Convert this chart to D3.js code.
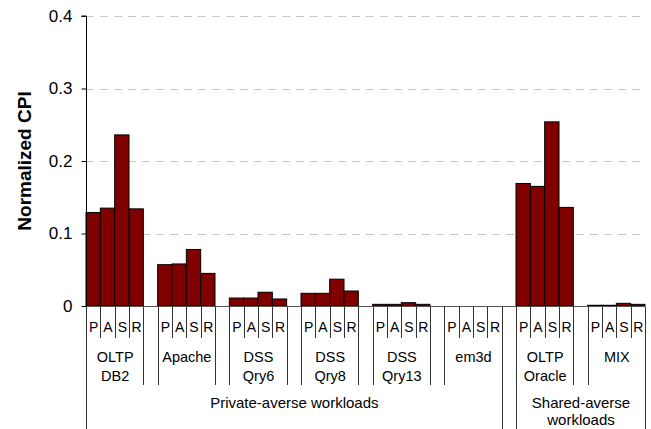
<!DOCTYPE html>
<html>
<head>
<meta charset="utf-8">
<script src="https://cdn.jsdelivr.net/npm/d3@7/dist/d3.min.js"></script>
<style>
  html, body { margin: 0; padding: 0; background: #fff; }
  svg { display: block; font-family: "Liberation Sans", Arial, sans-serif; }
</style>
</head>
<body>
<svg id="chart" width="651" height="429"></svg>
<script>
// Workloads (second axis level), with their line breaks
const workloads = [["OLTP", "DB2"], ["Apache"], ["DSS", "Qry6"], ["DSS", "Qry8"],
                   ["DSS", "Qry13"], ["em3d"], ["OLTP", "Oracle"], ["MIX"]];
// Schemes (first axis level)
const schemes = ["P", "A", "S", "R"];
// Workload classes (third axis level): label lines, first and last workload index
const classes = [
  { lines: ["Private-averse workloads"], from: 0, to: 5 },
  { lines: ["Shared-averse", "workloads"], from: 6, to: 7 }
];
// Normalized CPI per scheme, one value per workload
const valP = [0.129, 0.057, 0.011, 0.0175, 0.0023, 0, 0.169, 0.001];
const valA = [0.135, 0.058, 0.011, 0.0175, 0.0023, 0, 0.165, 0.001];
const valS = [0.236, 0.078, 0.019, 0.037, 0.0046, 0, 0.254, 0.0037];
const valR = [0.134, 0.045, 0.0097, 0.0207, 0.0023, 0, 0.136, 0.0023];
const yTicks = [0, 0.1, 0.2, 0.3, 0.4];

const seriesVals = [valP, valA, valS, valR];

// Category slots: four scheme bars per workload, one empty slot between workloads
const slotsPerGroup = schemes.length + 1;
const nSlots = workloads.length * slotsPerGroup - 1;
const slotIdx = d3.range(nSlots);
const slotOf = (g, s) => g * slotsPerGroup + s;

const margin = { left: 86, right: 6, top: 16, bottom: 123 };
const W = 651, H = 429;
const svg = d3.select("#chart");

const x = d3.scaleBand().domain(slotIdx).range([margin.left, W - margin.right]).padding(0);
const y = d3.scaleLinear().domain([0, 0.4]).range([H - margin.bottom, margin.top]);
const y0 = y(0);
const bw = x.bandwidth();

// Dashed gridlines
svg.append("g")
  .selectAll("line")
  .data(yTicks.filter(t => t > 0))
  .join("line")
  .attr("x1", margin.left).attr("x2", W - margin.right)
  .attr("y1", d => Math.round(y(d)) + 0.5).attr("y2", d => Math.round(y(d)) + 0.5)
  .attr("stroke", "#c8c8c8").attr("stroke-width", 1)
  .attr("stroke-dasharray", "8,6");

// Bars
const bars = [];
workloads.forEach((w, g) => {
  schemes.forEach((s, si) => {
    bars.push({ slot: slotOf(g, si), value: seriesVals[si][g] });
  });
});
svg.append("g")
  .selectAll("rect")
  .data(bars.filter(b => b.value > 0))
  .join("rect")
  .attr("x", d => x(d.slot))
  .attr("width", bw)
  .attr("y", d => y(d.value))
  .attr("height", d => y0 - y(d.value))
  .attr("fill", "#800000")
  .attr("stroke", "#000")
  .attr("stroke-width", 1);

// Y axis
const yAxis = d3.axisLeft(y).tickValues(yTicks).tickSize(5).tickPadding(9)
  .tickFormat(d => d === 0 ? "0" : d3.format(".1f")(d));
const yg = svg.append("g").attr("transform", `translate(${margin.left + 0.5},0)`).call(yAxis);
yg.select(".domain").attr("stroke", "#000").attr("d", `M-5,${y(0.4)}H0V${y0}`);
yg.selectAll(".tick line").attr("stroke", "#000");
yg.selectAll(".tick text").attr("font-size", 17).attr("fill", "#000")
  .attr("font-family", "'Liberation Sans', Arial, sans-serif");

// Y axis title
svg.append("text")
  .attr("transform", `translate(24,${(y(0.4) + y0) / 2}) rotate(-90)`)
  .attr("text-anchor", "middle").attr("dominant-baseline", "central")
  .attr("font-size", 19).attr("font-weight", "bold").attr("fill", "#000")
  .text("Normalized CPI");

// X axis baseline
svg.append("line")
  .attr("x1", margin.left).attr("x2", W - margin.right)
  .attr("y1", Math.round(y0) + 0.5).attr("y2", Math.round(y0) + 0.5)
  .attr("stroke", "#555").attr("stroke-width", 1);

// Multi-level category axis: divider depth per slot boundary
const row1 = y0 + 32, row2 = y0 + 79, row3 = H;
const edge = i => Math.round(i < nSlots ? x(i) : x(nSlots - 1) + bw) + 0.5;
const lines = svg.append("g").attr("stroke", "#333").attr("stroke-width", 1);

const groupEdges = new Set();
workloads.forEach((w, g) => { groupEdges.add(slotOf(g, 0)); groupEdges.add(slotOf(g, 4)); });
const classEdges = new Set();
classes.forEach(c => { classEdges.add(slotOf(c.from, 0)); classEdges.add(slotOf(c.to, 4)); });

d3.range(nSlots + 1).forEach(i => {
  let bottom = row1;
  if (groupEdges.has(i) || i === nSlots) bottom = row2;
  if (classEdges.has(i) || i === 0 || i === nSlots) bottom = row3;
  lines.append("line")
    .attr("x1", edge(i)).attr("x2", edge(i))
    .attr("y1", Math.round(y0) + 0.5).attr("y2", bottom);
});

// Scheme letters
const lab = svg.append("g").attr("fill", "#000").attr("text-anchor", "middle").attr("font-size", 14);
workloads.forEach((w, g) => {
  schemes.forEach((s, si) => {
    lab.append("text")
      .attr("x", x(slotOf(g, si)) + bw / 2 + 0.5)
      .attr("y", y0 + 26)
      .text(s);
  });
});

// Workload names
workloads.forEach((w, g) => {
  const cx = (x(slotOf(g, 0)) + x(slotOf(g, 3)) + bw) / 2 + 0.5;
  w.forEach((ln, k) => {
    lab.append("text")
      .attr("x", cx)
      .attr("y", y0 + 56 + k * 19)
      .attr("font-size", 14.5)
      .text(ln);
  });
});

// Workload classes
classes.forEach(c => {
  const x1 = x(slotOf(c.from, 0));
  const x2 = x(slotOf(c.to, 3)) + bw;
  c.lines.forEach((ln, k) => {
    lab.append("text")
      .attr("x", (x1 + x2) / 2 + 0.5)
      .attr("y", y0 + 102 + k * 17)
      .attr("font-size", 15)
      .text(ln);
  });
});
</script>
</body>
</html>
